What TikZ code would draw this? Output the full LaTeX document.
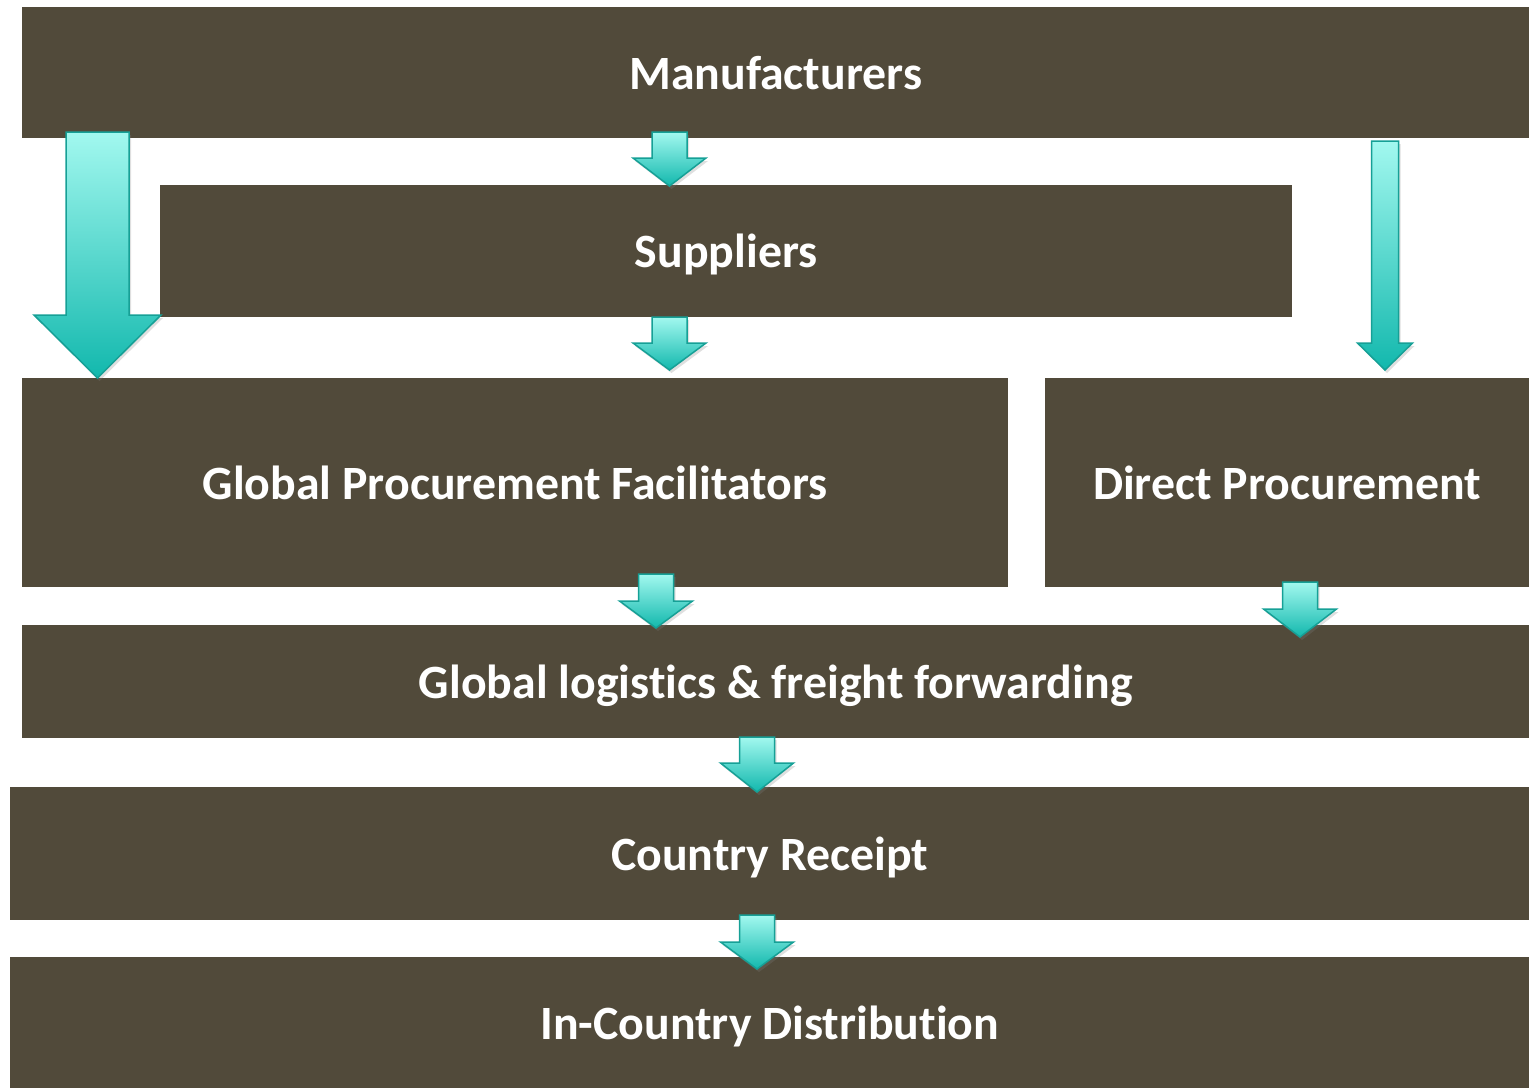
\documentclass[tikz,border=0pt]{standalone}
\usepackage{fontspec}
\setmainfont[Ligatures=NoCommon]{Carlito}
\usetikzlibrary{math,shadows}

\definecolor{boxbrown}{HTML}{514A3A}
\definecolor{arrowtop}{HTML}{A2F8EF}
\definecolor{arrowbottom}{HTML}{12B8AD}
\definecolor{arrowedge}{HTML}{16A096}

\tikzset{
  flowbox/.style={fill=boxbrown, anchor=north west, inner sep=0pt,
    text depth=0pt, text=white, font=\bfseries\fontsize{47.8}{57}\selectfont},
  flowarrow/.style={draw=arrowedge, line width=1.5pt, line join=miter,
    top color=arrowtop, bottom color=arrowbottom,
    drop shadow={shadow xshift=2pt, shadow yshift=-3pt, opacity=0.25}}
}

% 块状箭头: 中心 x, 箭杆半宽, 箭头半宽, 顶端 y, 箭头起点 y, 尖端 y
\newcommand{\flowarrow}[6]{%
  \path[flowarrow] (#1-#2,#4) -- (#1+#2,#4) -- (#1+#2,#5) -- (#1+#3,#5)
    -- (#1,#6) -- (#1-#3,#5) -- (#1-#2,#5) -- cycle;}

\begin{document}
\begin{tikzpicture}[x=1pt, y=-1pt]
  % 使用 tikzmath 定义小箭头尺寸
  \tikzmath{
    \s = 17.5; \h = 36.5;
  }
  \useasboundingbox (0,0) rectangle (1529,1088);

  % 绘制各层方框
  \node[flowbox, minimum width=1507pt, minimum height=131pt] (manu) at (22,7) {Manufacturers};
  \node[flowbox, minimum width=1132pt, minimum height=132pt] (supp) at (160,185) {Suppliers};
  \node[flowbox, minimum width=986pt, minimum height=209pt] (gpf) at (22,378) {Global Procurement Facilitators};
  \node[flowbox, minimum width=484pt, minimum height=209pt] (direct) at (1045,378) {Direct Procurement};
  \node[flowbox, minimum width=1507pt, minimum height=113pt] (logi) at (22,625) {Global logistics \& freight forwarding};
  \node[flowbox, minimum width=1519pt, minimum height=133pt] (country) at (10,787) {Country Receipt};
  \node[flowbox, minimum width=1519pt, minimum height=131pt] (incountry) at (10,957) {In-Country Distribution};

  % 绘制箭头 (manu -> supp -> gpf)
  \flowarrow{669.5}{\s}{\h}{132}{158}{186}
  \flowarrow{669.5}{\s}{\h}{317}{343}{370}
  % gpf, direct -> logi
  \flowarrow{656}{\s}{\h}{574}{601}{628}
  \flowarrow{1300}{\s}{\h}{582}{609}{637}
  % logi -> country -> incountry
  \flowarrow{757}{\s}{\h}{737}{763}{792}
  \flowarrow{757}{\s}{\h}{915}{942}{969}
  % 长箭头: manu -> gpf, manu -> direct
  \flowarrow{97.5}{31.5}{63.5}{132}{315}{378}
  \flowarrow{1385}{13.5}{27.5}{141}{343}{370}
\end{tikzpicture}
\end{document}
